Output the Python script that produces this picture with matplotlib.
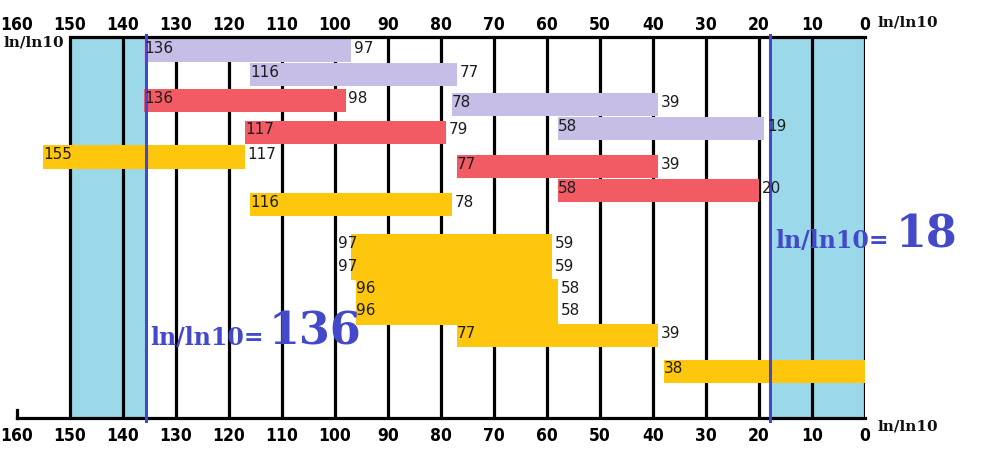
import matplotlib
matplotlib.use('Agg')
import matplotlib.pyplot as plt

# bar data: start (left, larger ln/ln10) and end (right) of each band
starts = [136, 116, 136, 78, 58, 117, 155, 77, 58, 116, 97, 97, 96, 96, 77, 38]
ends = [97, 77, 98, 39, 19, 79, 117, 39, 20, 78, 59, 59, 58, 58, 39, 0]
rows = [0.56, 1.58, 2.63, 2.83, 3.83, 3.96, 5.0, 5.38, 6.38, 6.99,
        8.69, 9.65, 10.58, 11.5, 12.44, 13.92]
kinds = ['p', 'p', 'r', 'p', 'p', 'r', 'y', 'r', 'r', 'y',
         'y', 'y', 'y', 'y', 'y', 'y']
show_end = [True] * 15 + [False]

# marked limits
limit_left = 135.7
limit_right = 17.9

ticks = list(range(160, -1, -10))

colors = {'p': '#c6bee6', 'r': '#f25b64', 'y': '#fec70e'}
shade = '#9bd9ea'
blue = '#4349c9'
# a couple of start labels sit left of their bar in the original
label_dx = {10: -9.5, 11: -9.5}

fig = plt.figure(figsize=(9.93, 4.68), dpi=100)
ax = fig.add_axes([17 / 993, 1 - 418 / 468, 848 / 993, 381 / 468])
ymax = 15.875
ax.set_xlim(160, 0)
ax.set_ylim(ymax, 0)

# shaded zones
ax.axvspan(150, limit_left, color=shade, zorder=0, lw=0)
ax.axvspan(limit_right, 0, color=shade, zorder=0, lw=0)

# vertical grid
ax.vlines(ticks[1:], 0, ymax, colors='black', lw=2.3, zorder=1)

# bars
for i, (s, e, r, k, se) in enumerate(zip(starts, ends, rows, kinds, show_end)):
    ax.barh(r, s - e, left=e, height=0.96, color=colors[k], zorder=2, lw=0)
    ax.annotate(str(s), (s, r), xytext=(label_dx.get(i, 0), 1.5), textcoords='offset points',
                ha='left', va='center', fontsize=11, color='#1c1c1c', zorder=4)
    if se:
        ax.annotate(str(e), (e, r), xytext=(2, 1.5), textcoords='offset points',
                    ha='left', va='center', fontsize=11, color='#1c1c1c', zorder=4)

# limit lines
for x in (limit_left, limit_right):
    ax.plot([x, x], [-0.1, ymax + 0.12], color=blue, lw=2.2, zorder=3, clip_on=False)

# spines
for side in ('left', 'right'):
    ax.spines[side].set_visible(False)
ax.spines['top'].set_bounds(0, 150)
ax.spines['top'].set_linewidth(2.3)
ax.spines['bottom'].set_linewidth(2.3)
ax.plot([160, 160], [ymax, ymax - 0.35], color='black', lw=2.3, clip_on=False)

ax.set_yticks([])
ax.set_xticks([])

# tick numbers above and below
tick_font = dict(family='DejaVu Sans', stretch='condensed', weight='bold', size=12.5)
for t in ticks:
    ax.annotate(str(t), (t, 1), xycoords=('data', 'axes fraction'), xytext=(0, 9),
                textcoords='offset points', ha='center', va='center', **tick_font)
    ax.annotate(str(t), (t, 0), xycoords=('data', 'axes fraction'), xytext=(0, -13),
                textcoords='offset points', ha='center', va='center', **tick_font)

# axis unit labels
unit_font = dict(family='DejaVu Serif', weight='bold', size=11, color='#111111')
fig.text(3 / 993, 1 - 43 / 468, 'ln/ln10', ha='left', va='center', **unit_font)
fig.text(877 / 993, 1 - 22 / 468, 'ln/ln10', ha='left', va='center', **unit_font)
fig.text(878 / 993, 1 - 427 / 468, 'ln/ln10', ha='left', va='center', **unit_font)

# limit annotations
ax.text(134.9, 12.83, 'ln/ln10=', family='DejaVu Serif', weight='bold', size=17,
        color=blue, va='baseline', ha='left', zorder=5)
ax.text(112.6, 12.83, '136', family='DejaVu Serif', weight='bold', size=32,
        color=blue, va='baseline', ha='left', zorder=5)
ax.text(17.0, 8.79, 'ln/ln10=', family='DejaVu Serif', weight='bold', size=17,
        color=blue, va='baseline', ha='left', zorder=5)
ax.text(-5.7, 8.79, '18', family='DejaVu Serif', weight='bold', size=32,
        color=blue, va='baseline', ha='left', zorder=5)

fig.savefig('out.png', dpi=100)
